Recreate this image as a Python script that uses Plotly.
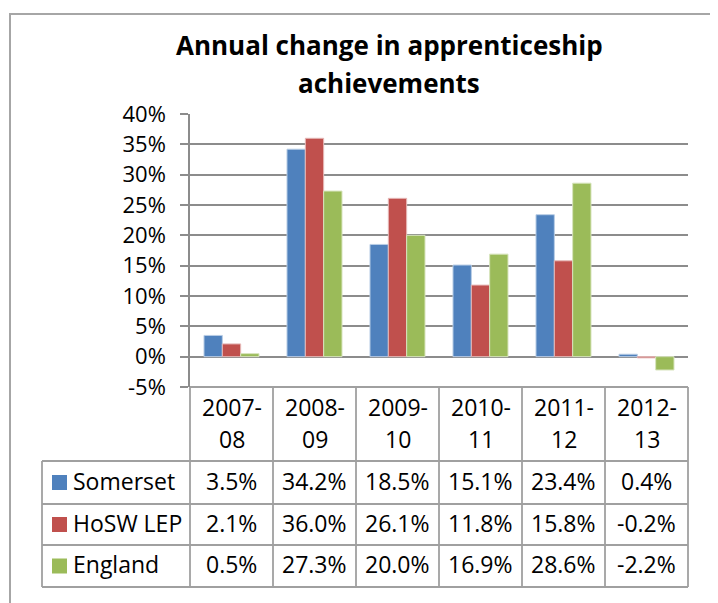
import plotly.graph_objects as go

# ---- data ----
categories = ["2007-08", "2008-09", "2009-10", "2010-11", "2011-12", "2012-13"]
series_names = ["Somerset", "HoSW LEP", "England"]
somerset = [3.5, 34.2, 18.5, 15.1, 23.4, 0.4]
hosw_lep = [2.1, 36.0, 26.1, 11.8, 15.8, -0.2]
england = [0.5, 27.3, 20.0, 16.9, 28.6, -2.2]
y_tick_vals = [-5, 0, 5, 10, 15, 20, 25, 30, 35, 40]
y_tick_text = ["-5%", "0%", "5%", "10%", "15%", "20%", "25%", "30%", "35%", "40%"]
title_lines = ["Annual change in apprenticeship", "achievements"]

colors = ["#4F81BD", "#C0504D", "#9BBB59"]
edge_colors = ["#B9CDE5", "#E6B9B8", "#D7E4BD"]
series_values = [somerset, hosw_lep, england]

# page offset (browser body margin)
OFF = 8
FW, FH = 718 - OFF, 603 - OFF
PLOT_L, PLOT_R, PLOT_T, PLOT_B = 190, 688, 114, 387   # window pixel positions
L = PLOT_L - OFF
T = PLOT_T - OFF
R = FW - (PLOT_R - OFF)
B = FH - (PLOT_B - OFF)
W = PLOT_R - PLOT_L
H = PLOT_B - PLOT_T
FONT = "Open Sans"
GRID = "#8C8C8C"
TBL = "#A0A0A0"
TFS = 23


def px_x(p):
    return (p - PLOT_L) / W


def px_y(p):
    return (PLOT_B - p) / H


fig = go.Figure()
for name, vals, c, ec in zip(series_names, series_values, colors, edge_colors):
    fig.add_trace(go.Bar(x=list(range(len(categories))), y=vals, name=name,
                         marker=dict(color=c, line=dict(color=ec, width=1)),
                         hoverinfo="skip"))

shapes = []
annotations = []

# outer chart border
shapes.append(dict(type="rect", xref="paper", yref="paper",
                   x0=px_x(10), x1=px_x(714), y0=px_y(14), y1=px_y(660),
                   line=dict(color="#A6A6A6", width=2), fillcolor="rgba(0,0,0,0)",
                   layer="below"))

# title
for line, yc in zip(title_lines, [45, 83]):
    annotations.append(dict(text="<b>%s</b>" % line, xref="paper", yref="paper",
                            x=px_x(389), y=px_y(yc), xanchor="center", yanchor="middle",
                            showarrow=False, font=dict(family=FONT, size=26, color="black")))

# data table
n = len(categories)
table_top, header_bot = 387, 461
row_bounds = [461, 504, 545, 587]
legend_left = 42

def hline(y, x0, x1):
    shapes.append(dict(type="line", xref="paper", yref="paper", x0=x0, x1=x1,
                       y0=px_y(y), y1=px_y(y), line=dict(color=TBL, width=1.8)))

def vline(x, y0, y1):
    shapes.append(dict(type="line", xref="paper", yref="paper", x0=x, x1=x,
                       y0=px_y(y0), y1=px_y(y1), line=dict(color=TBL, width=1.8)))

hline(table_top, 0, 1)
for yb in row_bounds:
    hline(yb, px_x(legend_left), 1)
vline(px_x(legend_left), header_bot, row_bounds[-1])
for i in range(n + 1):
    vline(i / n, table_top, row_bounds[-1])

# header labels
for i, cat in enumerate(categories):
    a, b = cat.split("-")
    for txt, yc in [(a + "-", 407), (b, 439)]:
        annotations.append(dict(text=txt, xref="paper", yref="paper",
                                x=(i + 0.5) / n, y=px_y(yc), xanchor="center", yanchor="middle",
                                showarrow=False, font=dict(family=FONT, size=TFS, color="black")))

# rows
for r, (name, vals, c) in enumerate(zip(series_names, series_values, colors)):
    yc = (row_bounds[r] + row_bounds[r + 1]) / 2
    shapes.append(dict(type="rect", xref="paper", yref="paper",
                       x0=px_x(52), x1=px_x(67), y0=px_y(yc - 7.5), y1=px_y(yc + 7.5),
                       fillcolor=c, line=dict(width=0)))
    ty = yc - 2
    annotations.append(dict(text=name, xref="paper", yref="paper",
                            x=px_x(71), y=px_y(ty), xanchor="left", yanchor="middle",
                            showarrow=False, font=dict(family=FONT, size=TFS, color="black")))
    for i, v in enumerate(vals):
        annotations.append(dict(text="%.1f%%" % v, xref="paper", yref="paper",
                                x=(i + 0.5) / n, y=px_y(ty), xanchor="center", yanchor="middle",
                                showarrow=False, font=dict(family=FONT, size=TFS, color="black")))

fig.update_layout(
    width=FW, height=FH, autosize=False,
    margin=dict(l=L, r=R, t=T, b=B, pad=0),
    paper_bgcolor="white", plot_bgcolor="white",
    barmode="group", bargap=0.337, bargroupgap=0,
    showlegend=False,
    shapes=shapes, annotations=annotations,
    xaxis=dict(range=[-0.5, n - 0.5], showticklabels=False, showgrid=False,
               zeroline=False, showline=False, ticks="", fixedrange=True),
    yaxis=dict(range=[-5, 40], tickvals=y_tick_vals, ticktext=y_tick_text,
               showgrid=True, gridcolor=GRID, gridwidth=1.5,
               zeroline=True, zerolinecolor=GRID, zerolinewidth=1.5,
               showline=True, linecolor=GRID, linewidth=1.5,
               ticks="outside", ticklen=8, tickcolor=GRID, tickwidth=1.5,
               ticklabelstandoff=10,
               tickfont=dict(family=FONT, size=22, color="black"), fixedrange=True),
)

fig.write_html("out.html")
